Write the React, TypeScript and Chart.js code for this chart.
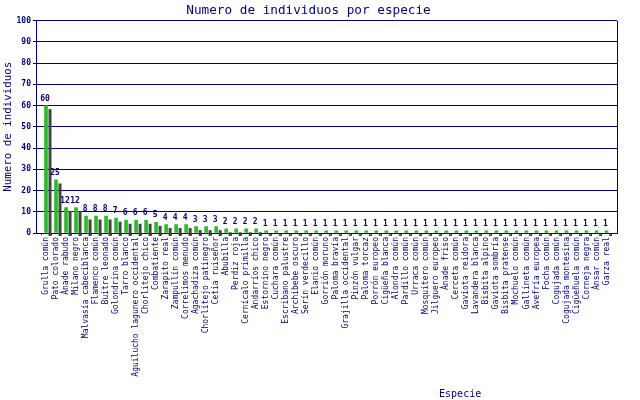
import { useEffect, useRef } from 'react';
import { Chart, registerables } from 'chart.js';

Chart.register(...registerables);

const NAVY = '#000080';
const GREEN = '#22c022';
const SHADOW = '#444444';
const MONO = '"DejaVu Sans Mono", monospace';

const SPECIES = [
  'Grulla común', 'Pato colorado', 'Ánade rabudo', 'Milano negro', 'Malvasía cabeciblanca',
  'Flamenco común', 'Buitre leonado', 'Golondrina común', 'Tarro blanco',
  'Aguilucho lagunero occidental', 'Chorlitejo chico', 'Combatiente', 'Zarapito real',
  'Zampullín común', 'Correlimos menudo', 'Agachadiza común', 'Chorlitejo patinegro',
  'Cetia ruiseñor', 'Abubilla', 'Perdiz roja', 'Cernícalo primilla', 'Andarríos chico',
  'Estornino negro', 'Cuchara común', 'Escribano palustre', 'Archibebe oscuro',
  'Serín verdecillo', 'Elanio común', 'Gorrión moruno', 'Paloma bravía',
  'Grajilla occidental', 'Pinzón vulgar', 'Paloma torcaz', 'Porrón europeo',
  'Cigüeña blanca', 'Alondra común', 'Pardillo común', 'Urraca común',
  'Mosquitero común', 'Jilguero europeo', 'Ánade friso', 'Cerceta común',
  'Gaviota reidora', 'Lavandera blanca', 'Bisbita alpino', 'Gaviota sombría',
  'Bisbita pratense', 'Mochuelo común', 'Gallineta común', 'Avefría europea',
  'Focha común', 'Cogujada común', 'Cogujada montesina', 'Cigüeñuela común',
  'Corneja negra', 'Ánsar común', 'Garza real',
];

const COUNTS = [
  60, 25, 12, 12, 8, 8, 8, 7, 6, 6, 6, 5, 4, 4, 4, 3, 3, 3, 2, 2, 2, 2,
  1, 1, 1, 1, 1, 1, 1, 1, 1, 1, 1, 1, 1, 1, 1, 1, 1, 1, 1, 1, 1, 1, 1,
  1, 1, 1, 1, 1, 1, 1, 1, 1, 1, 1, 1,
];

const Y_TICKS = [0, 10, 20, 30, 40, 50, 60, 70, 80, 90, 100];

// drop shadow behind each bar, offset right/down like the original
const shadowPlugin = {
  id: 'barShadow',
  beforeDatasetsDraw(chart: any) {
    const ctx = chart.ctx;
    ctx.save();
    ctx.fillStyle = SHADOW;
    chart.getDatasetMeta(0).data.forEach((el: any) => {
      const { x, y, base, width } = el.getProps(['x', 'y', 'base', 'width'], true);
      ctx.fillRect(x - width / 2 + 4, y + 3.5, width, base - y);
    });
    ctx.restore();
  },
};

const extrasPlugin = {
  id: 'extras',
  afterDatasetsDraw(chart: any) {
    const ctx = chart.ctx;
    ctx.save();
    ctx.fillStyle = NAVY;
    ctx.font = `bold 8px ${MONO}`;
    ctx.textAlign = 'center';
    ctx.textBaseline = 'bottom';
    chart.getDatasetMeta(0).data.forEach((el: any, i: number) => {
      ctx.fillText(String(COUNTS[i]), el.x - 1, el.y - 3);
    });
    ctx.restore();
  },
  afterDraw(chart: any) {
    const { ctx, chartArea } = chart;
    ctx.save();
    ctx.strokeStyle = NAVY;
    ctx.lineWidth = 1;
    ctx.beginPath();
    ctx.moveTo(chartArea.right + 0.5, chartArea.top);
    ctx.lineTo(chartArea.right + 0.5, chartArea.bottom);
    ctx.stroke();
    ctx.fillStyle = NAVY;
    ctx.font = `10px ${MONO}`;
    ctx.textAlign = 'center';
    ctx.textBaseline = 'alphabetic';
    ctx.fillText('Especie', chartArea.left + (chartArea.right - chartArea.left) * 0.73, 397);
    ctx.restore();
  },
};

export default function App() {
  const canvasRef = useRef<HTMLCanvasElement>(null);
  const chartRef = useRef<Chart | null>(null);

  useEffect(() => {
    if (!canvasRef.current) return;
    if (chartRef.current) chartRef.current.destroy();

    chartRef.current = new Chart(canvasRef.current, {
      type: 'bar',
      data: {
        datasets: [{
          data: COUNTS.map((v, i) => ({ x: i, y: v })),
          backgroundColor: GREEN,
          barThickness: 3,
        }],
      },
      options: {
        animation: false,
        responsive: false,
        devicePixelRatio: 1,
        layout: { padding: { left: 0, right: 23, top: 0, bottom: 0 } },
        plugins: {
          legend: { display: false },
          tooltip: { enabled: false },
          title: {
            display: true,
            text: 'Numero de individuos por especie',
            color: NAVY,
            font: { family: MONO, size: 12.7, weight: 'normal' },
            padding: { top: 3, bottom: 2.5 },
          },
        },
        scales: {
          x: {
            type: 'linear',
            offset: false,
            min: -1,
            max: 57.05,
            afterBuildTicks: (scale: any) => {
              scale.ticks = SPECIES.map((_, i) => ({ value: i }));
            },
            afterFit: (scale: any) => { scale.height = 167; },
            grid: { drawOnChartArea: false, drawTicks: true, tickLength: 2, color: NAVY },
            border: { color: NAVY },
            ticks: {
              autoSkip: false,
              minRotation: 90,
              maxRotation: 90,
              padding: 2,
              color: NAVY,
              font: { family: MONO, size: 8 },
              callback: (v: any) => SPECIES[v] ?? '',
            },
          },
          y: {
            min: 0,
            max: 100,
            afterBuildTicks: (scale: any) => {
              scale.ticks = Y_TICKS.map(v => ({ value: v }));
            },
            afterFit: (scale: any) => { scale.width = 36; },
            grid: { color: NAVY, tickLength: 3, tickColor: NAVY },
            border: { color: NAVY },
            ticks: {
              padding: 2,
              color: NAVY,
              font: { family: MONO, size: 8, weight: 'bold' },
            },
            title: {
              display: true,
              text: 'Numero de individuos',
              color: NAVY,
              font: { family: MONO, size: 10.8 },
              padding: { top: 2, bottom: 0 },
            },
          },
        },
      },
      plugins: [shadowPlugin, extrasPlugin],
    });

    return () => {
      if (chartRef.current) { chartRef.current.destroy(); chartRef.current = null; }
    };
  }, []);

  return (
    <div style={{ position: 'absolute', left: 0, top: 0, width: 640, height: 400, background: '#fff' }}>
      <canvas ref={canvasRef} width={640} height={400} />
    </div>
  );
}
